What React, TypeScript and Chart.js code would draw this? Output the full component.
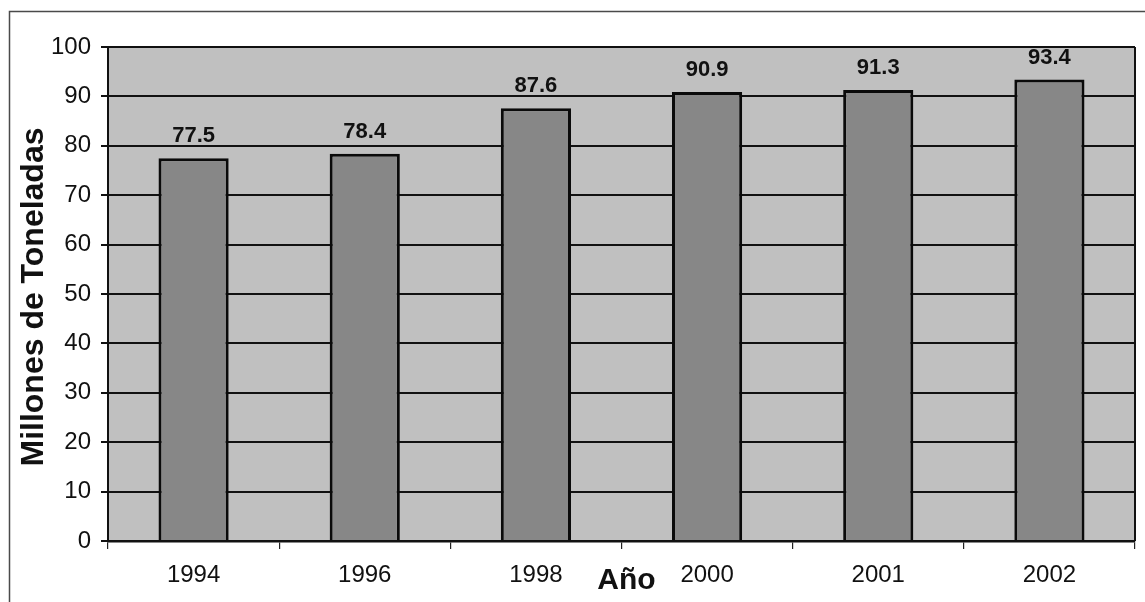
import React, { useEffect, useRef } from "react";
import { Chart, registerables } from "chart.js";

Chart.register(...registerables);

const categories = ["1994", "1996", "1998", "2000", "2001", "2002"];
const values = [77.5, 78.4, 87.6, 90.9, 91.3, 93.4];
const yMin = 0;
const yMax = 100;
const yStep = 10;
const yTitle = "Millones de Toneladas";
const xTitle = "Año";

const FONT = "'Liberation Sans', Arial, sans-serif";

const decorPlugin = {
  id: "decor",
  beforeDraw(chart: any) {
    const { ctx, chartArea, width, height } = chart;
    ctx.save();
    ctx.fillStyle = "#ffffff";
    ctx.fillRect(0, 0, width, height);
    // outer frame
    ctx.strokeStyle = "#4a4a4a";
    ctx.lineWidth = 1.5;
    ctx.beginPath();
    ctx.moveTo(9.5, height + 2);
    ctx.lineTo(9.5, 11.5);
    ctx.lineTo(width + 2, 11.5);
    ctx.stroke();
    // plot background
    ctx.fillStyle = "#c0c0c0";
    ctx.fillRect(chartArea.left, chartArea.top, chartArea.right - chartArea.left, chartArea.bottom - chartArea.top);
    ctx.restore();
  },
  afterDatasetsDraw(chart: any) {
    const { ctx, chartArea } = chart;
    ctx.save();
    // right border of plot
    ctx.strokeStyle = "#111";
    ctx.lineWidth = 2;
    ctx.beginPath();
    ctx.moveTo(chartArea.right, chartArea.top);
    ctx.lineTo(chartArea.right, chartArea.bottom);
    ctx.stroke();
    // data labels
    const meta = chart.getDatasetMeta(0);
    ctx.fillStyle = "#111";
    ctx.font = `bold 22px ${FONT}`;
    ctx.textAlign = "center";
    ctx.textBaseline = "alphabetic";
    meta.data.forEach((bar: any, i: number) => {
      ctx.fillText(values[i].toFixed(1), bar.x, bar.y - 16);
    });
    // y title
    ctx.font = `bold 32px ${FONT}`;
    ctx.translate(34, (chartArea.top + chartArea.bottom) / 2 + 3);
    ctx.rotate(-Math.PI / 2);
    ctx.textBaseline = "middle";
    ctx.fillText(yTitle, 0, 0);
    ctx.restore();
    // x title
    ctx.save();
    ctx.fillStyle = "#111";
    ctx.font = `bold 30px ${FONT}`;
    ctx.textAlign = "center";
    ctx.textBaseline = "alphabetic";
    ctx.fillText(xTitle, (chartArea.left + chartArea.right) / 2 + 5, 589);
    ctx.restore();
  },
};

export default function App() {
  const ref = useRef<HTMLCanvasElement | null>(null);
  useEffect(() => {
    if (!ref.current) return;
    const chart = new Chart(ref.current, {
      type: "bar",
      data: {
        labels: categories,
        datasets: [
          {
            data: values,
            backgroundColor: "#878787",
            borderColor: "#0a0a0a",
            borderWidth: 3,
            categoryPercentage: 1,
            barPercentage: 0.41,
          },
        ],
      },
      options: {
        responsive: false,
        animation: false,
        devicePixelRatio: 1,
        layout: { padding: { top: 47, right: 10, left: 0, bottom: 0 } },
        plugins: {
          legend: { display: false },
          tooltip: { enabled: false },
          title: { display: false },
        },
        scales: {
          x: {
            offset: true,
            grid: {
              offset: true,
              drawOnChartArea: false,
              drawTicks: true,
              tickLength: 8,
              color: "#222",
              lineWidth: 1.2,
            },
            border: { display: true, color: "#111", width: 2.5 },
            ticks: {
              color: "#111",
              font: { family: FONT, size: 24 },
              padding: 12,
              maxRotation: 0,
            },
            afterFit(scale: any) {
              scale.height = 61;
            },
          },
          y: {
            min: yMin,
            max: yMax,
            ticks: {
              stepSize: yStep,
              color: "#111",
              font: { family: FONT, size: 24 },
              padding: 10,
            },
            grid: {
              color: "#111",
              lineWidth: 2,
              tickLength: 7,
            },
            border: { display: true, color: "#111", width: 2 },
            afterFit(scale: any) {
              scale.width = 108;
            },
          },
        },
      },
      plugins: [decorPlugin],
    });
    return () => chart.destroy();
  }, []);
  return (
    <div style={{ position: "fixed", left: 0, top: 0, width: 1145, height: 602, background: "#fff" }}>
      <canvas ref={ref} width={1145} height={602} style={{ display: "block", width: 1145, height: 602 }} />
    </div>
  );
}
